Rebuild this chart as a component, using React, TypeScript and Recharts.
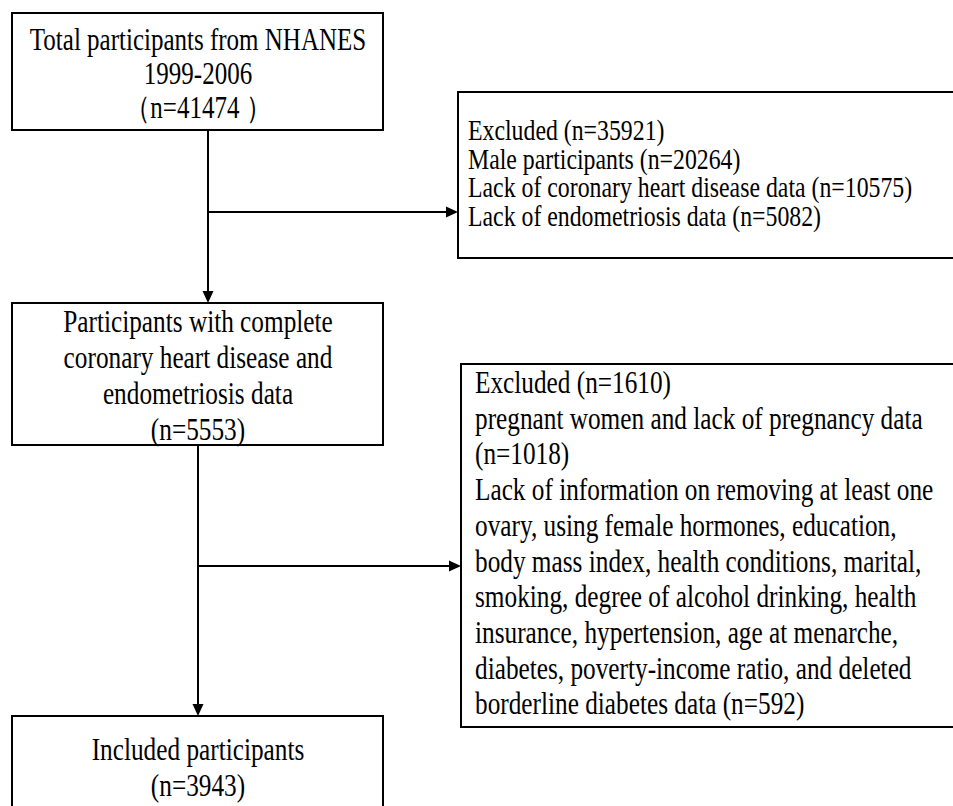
import React from "react";
import {
	ScatterChart,
	Scatter,
	XAxis,
	YAxis,
	ReferenceArea,
	ReferenceLine,
} from "recharts";

// Counts of the screening flow
const cohortCounts = [41474, 5553, 3943];
const exclusionTotals = [35921, 1610];
const firstExclusionReasons = [
	"Male participants",
	"Lack of coronary heart disease data",
	"Lack of endometriosis data",
];
const firstExclusionCounts = [20264, 10575, 5082];
const secondExclusionCounts = [1018, 592];

// Text of each box, line by line
const totalLines = [
	"Total participants from NHANES",
	"1999-2006",
	`（n=${cohortCounts[0]} ）`,
];
const completeLines = [
	"Participants with complete",
	"coronary heart disease and",
	"endometriosis data",
	`(n=${cohortCounts[1]})`,
];
const includedLines = ["Included participants", `(n=${cohortCounts[2]})`];
const firstExcludedLines = [
	`Excluded (n=${exclusionTotals[0]})`,
	...firstExclusionReasons.map((r, i) => `${r} (n=${firstExclusionCounts[i]})`),
];
const secondExcludedLines = [
	`Excluded (n=${exclusionTotals[1]})`,
	"pregnant women and lack of pregnancy data",
	`(n=${secondExclusionCounts[0]})`,
	"Lack of information on removing at least one",
	"ovary, using female hormones, education,",
	"body mass index, health conditions, marital,",
	"smoking, degree of alcohol drinking, health",
	"insurance, hypertension, age at menarche,",
	"diabetes, poverty-income ratio, and deleted",
	`borderline diabetes data (n=${secondExclusionCounts[1]})`,
];

// Layout of the flow diagram (in the 953 x 806 frame)
const W = 953;
const H = 806;
const FONT = "'Liberation Serif', 'Times New Roman', serif";

const boxes = [
	{ x1: 12, x2: 383, y1: 13, y2: 130 },
	{ x1: 458, x2: 965, y1: 92, y2: 258 },
	{ x1: 12, x2: 383, y1: 303, y2: 445 },
	{ x1: 461, x2: 965, y1: 364, y2: 727 },
	{ x1: 12, x2: 383, y1: 716, y2: 830 },
];

// sq = horizontal squeeze of the glyphs
const textBlocks = [
	{ lines: totalLines, x: 198, y: 50, step: 34, size: 30.5, sq: 0.82, anchor: "middle" },
	{ lines: firstExcludedLines, x: 468, y: 140, step: 28.6, size: 28.5, sq: 0.835, anchor: "start" },
	{ lines: completeLines, x: 198, y: 332, step: 36, size: 32, sq: 0.79, anchor: "middle" },
	{ lines: secondExcludedLines, x: 475, y: 393, step: 35.7, size: 32, sq: 0.79, anchor: "start" },
	{ lines: includedLines, x: 198, y: 760, step: 36, size: 32, sq: 0.79, anchor: "middle" },
];

const connectors = [
	[{ x: 208, y: 130 }, { x: 208, y: 292 }],
	[{ x: 208, y: 212 }, { x: 447, y: 212 }],
	[{ x: 198, y: 445 }, { x: 198, y: 705 }],
	[{ x: 198, y: 566 }, { x: 450, y: 566 }],
];

const arrowTips = [
	{ x: 208, y: 303, dir: "down" },
	{ x: 458, y: 212, dir: "right" },
	{ x: 198, y: 716, dir: "down" },
	{ x: 461, y: 566, dir: "right" },
];

const textPoints = textBlocks.flatMap((b) =>
	b.lines.map((text, i) => ({
		x: b.x,
		y: b.y + i * b.step,
		text,
		size: b.size,
		sq: b.sq,
		anchor: b.anchor,
	}))
);

const TextLine = (props: any) => {
	const { cx, cy, payload } = props;
	if (cx == null || cy == null) return null;
	return (
		<g transform={`translate(${cx} ${cy}) scale(${payload.sq} 1)`}>
			<text
				x={0}
				y={0}
				textAnchor={payload.anchor}
				fontFamily={FONT}
				fontSize={payload.size}
				fill="#000">
				{payload.text}
			</text>
		</g>
	);
};

const ArrowHead = (props: any) => {
	const { cx, cy, payload } = props;
	if (cx == null || cy == null) return null;
	const pts =
		payload.dir === "down"
			? `${cx},${cy} ${cx - 5.5},${cy - 12} ${cx + 5.5},${cy - 12}`
			: `${cx},${cy} ${cx - 12},${cy - 5.5} ${cx - 12},${cy + 5.5}`;
	return <polygon points={pts} fill="#000" />;
};

const App: React.FC = () => {
	return (
		<div style={{ position: "absolute", left: 0, top: 0, background: "#fff" }}>
			<ScatterChart
				width={W}
				height={H}
				margin={{ top: 0, right: 0, bottom: 0, left: 0 }}>
				<XAxis type="number" dataKey="x" domain={[0, W]} hide />
				<YAxis type="number" dataKey="y" domain={[0, H]} reversed hide />
				{boxes.map((b, i) => (
					<ReferenceArea
						key={`box-${i}`}
						x1={b.x1}
						x2={b.x2}
						y1={b.y1}
						y2={b.y2}
						fill="#fff"
						fillOpacity={0}
						stroke="#000"
						strokeWidth={2}
						ifOverflow="visible"
					/>
				))}
				{connectors.map((seg, i) => (
					<ReferenceLine
						key={`seg-${i}`}
						segment={seg}
						stroke="#000"
						strokeWidth={2}
						ifOverflow="visible"
					/>
				))}
				<Scatter
					data={arrowTips}
					shape={(p: any) => <ArrowHead {...p} />}
					isAnimationActive={false}
				/>
				<Scatter
					data={textPoints}
					shape={(p: any) => <TextLine {...p} />}
					isAnimationActive={false}
				/>
			</ScatterChart>
		</div>
	);
};

export default App;
